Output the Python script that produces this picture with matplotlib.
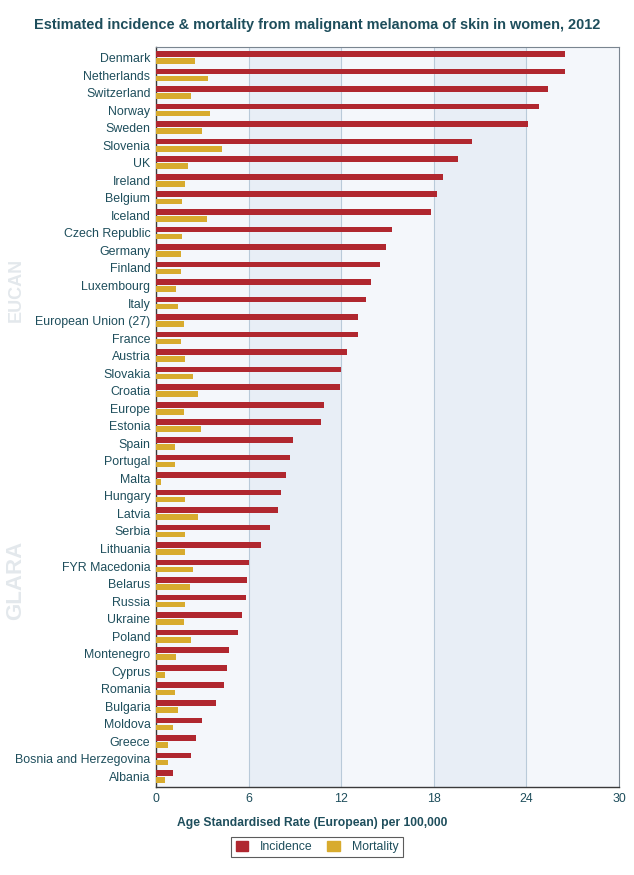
import matplotlib
matplotlib.use("Agg")
import matplotlib.pyplot as plt
from matplotlib.patches import Patch

countries = ["Denmark", "Netherlands", "Switzerland", "Norway", "Sweden", "Slovenia", "UK",
             "Ireland", "Belgium", "Iceland", "Czech Republic", "Germany", "Finland",
             "Luxembourg", "Italy", "European Union (27)", "France", "Austria", "Slovakia",
             "Croatia", "Europe", "Estonia", "Spain", "Portugal", "Malta", "Hungary", "Latvia",
             "Serbia", "Lithuania", "FYR Macedonia", "Belarus", "Russia", "Ukraine", "Poland",
             "Montenegro", "Cyprus", "Romania", "Bulgaria", "Moldova", "Greece",
             "Bosnia and Herzegovina", "Albania"]
incidence = [26.5, 26.5, 25.4, 24.8, 24.1, 20.5, 19.6, 18.6, 18.2, 17.8, 15.3, 14.9, 14.5,
             13.9, 13.6, 13.1, 13.1, 12.4, 12.0, 11.9, 10.9, 10.7, 8.9, 8.7, 8.4, 8.1, 7.9,
             7.4, 6.8, 6.0, 5.9, 5.8, 5.6, 5.3, 4.7, 4.6, 4.4, 3.9, 3.0, 2.6, 2.3, 1.1]
mortality = [2.5, 3.4, 2.3, 3.5, 3.0, 4.3, 2.1, 1.9, 1.7, 3.3, 1.7, 1.6, 1.6, 1.3, 1.4,
             1.8, 1.6, 1.9, 2.4, 2.7, 1.8, 2.9, 1.2, 1.2, 0.3, 1.9, 2.7, 1.9, 1.9, 2.4, 2.2,
             1.9, 1.8, 2.3, 1.3, 0.6, 1.2, 1.4, 1.1, 0.8, 0.8, 0.6]
xticks = [0, 6, 12, 18, 24, 30]

plt.rcParams['font.family'] = ['Liberation Sans', 'DejaVu Sans']
txt = '#1e4e5c'
red = '#b0272f'
gold = '#d8ab2e'

fig = plt.figure(figsize=(6.34, 8.75), dpi=100)
ax = fig.add_axes([156/634, 1-787/875, 463/634, 740/875])

# background bands
ax.set_facecolor('#f4f7fb')
for i in range(len(xticks) - 1):
    if i % 2 == 1:
        ax.axvspan(xticks[i], xticks[i+1], color='#e8eef6', zorder=0, lw=0)
for t in xticks[1:-1]:
    ax.axvline(t, color='#b9cad9', lw=0.8, zorder=1)

y = list(range(len(countries)))
h = 0.32
ax.barh([v - 0.2 for v in y], incidence, height=h, color=red, zorder=3, label='Incidence')
ax.barh([v + 0.2 for v in y], mortality, height=h, color=gold, zorder=3, label='Mortality')

ax.set_ylim(len(countries) - 0.4, -0.6)
ax.set_xlim(0, 30)
ax.set_yticks(y)
ax.set_yticklabels(countries, fontsize=8.9, color=txt)
ax.set_xticks(xticks)
ax.set_xticklabels([str(t) for t in xticks], fontsize=8.9, color=txt)
ax.tick_params(axis='both', length=0, pad=4)
for s in ['left', 'bottom']:
    ax.spines[s].set_color('#3a3a3a')
    ax.spines[s].set_linewidth(1.0)
for s in ['top', 'right']:
    ax.spines[s].set_color('#7a8590')
    ax.spines[s].set_linewidth(0.8)

fig.text(317/634, 1-25/875, "Estimated incidence & mortality from malignant melanoma of skin in women, 2012",
         ha='center', va='center', fontsize=10.45, fontweight='bold', color=txt)
fig.text(312/634, 1-823/875, "Age Standardised Rate (European) per 100,000",
         ha='center', va='center', fontsize=8.7, fontweight='bold', color=txt)

leg = fig.legend(handles=[Patch(color=red, label='Incidence'), Patch(color=gold, label='Mortality')],
                 loc='center', bbox_to_anchor=(317/634, 1-847/875), ncol=2, frameon=True,
                 fontsize=8.8, handlelength=1.0, handleheight=0.9, columnspacing=1.2,
                 fancybox=False, borderpad=0.35, handletextpad=1.0)
leg.get_frame().set_edgecolor('#333333')
leg.get_frame().set_linewidth(0.8)
for t in leg.get_texts():
    t.set_color(txt)

# faint watermark logos
fig.text(16/634, 1-290/875, "EUCAN", rotation=90, ha='center', va='center', fontsize=13,
         color='#e3e8ec', fontweight='bold')
fig.text(16/634, 1-580/875, "GLARA", rotation=90, ha='center', va='center', fontsize=16,
         color='#e3e8ec', fontweight='bold')

fig.savefig("out.png", dpi=100)
